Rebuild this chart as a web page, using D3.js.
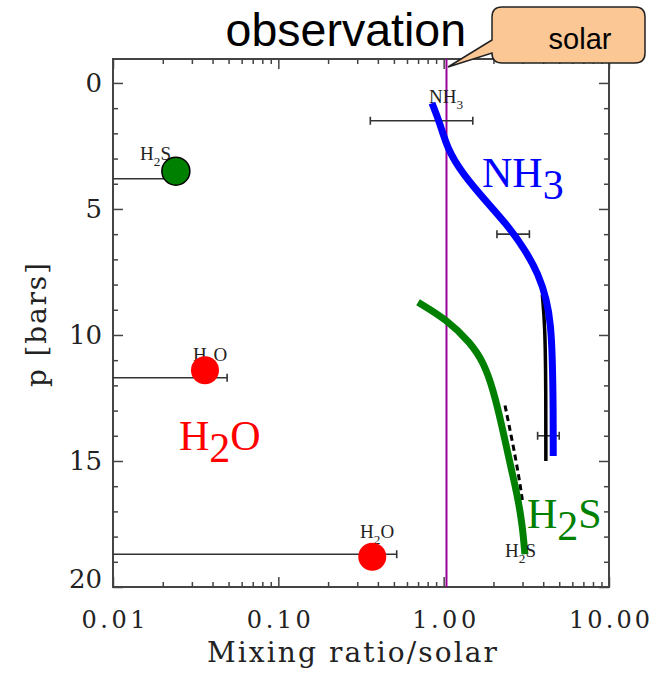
<!DOCTYPE html>
<html>
<head>
<meta charset="utf-8">
<script src="https://cdn.jsdelivr.net/npm/d3@7"></script>
<style>
  body { margin: 0; background: #fff; }
  svg { display: block; }
  .axis path, .axis line { stroke: #444; stroke-width: 1.5; }
  .axis text { font-family: "DejaVu Serif", serif; fill: #222; }
</style>
</head>
<body>
<svg id="chart" width="658" height="673"></svg>
<script>
// tick values / labels
var xTickValues = [0.01, 0.1, 1, 10]
var xTickLabels = ["0.01", "0.10", "1.00", "10.00"]
var yTickValues = [0, 5, 10, 15, 20]

// model curves (mixing ratio vs pressure)
var nh3Ratio    = [0.85, 0.95, 1.05, 1.3, 1.75, 2.4, 3.1, 3.75, 4.2, 4.45, 4.55, 4.6, 4.6]
var nh3Pressure = [0.8, 1.6, 2.6, 3.6, 4.6, 5.6, 6.6, 7.6, 8.6, 9.6, 11, 13, 14.8]
var nh3ObsRatio    = [3.95, 4.1, 4.15, 4.15]
var nh3ObsPressure = [8.4, 9.6, 12, 15.0]
var h2sRatio    = [0.70, 1.05, 1.45, 1.75, 2.0, 2.25, 2.5, 2.8, 3.0, 3.1]
var h2sPressure = [8.7, 9.4, 10.3, 11.1, 12.2, 13.6, 15.0, 16.4, 17.6, 18.7]
var h2sObsRatio    = [2.35, 2.6, 2.85, 3.0]
var h2sObsPressure = [12.8, 14.2, 15.6, 16.6]

// observed points
var pointRatio    = [0.024, 0.036, 0.37]
var pointPressure = [3.5, 11.4, 18.8]
var pointColor    = ["#008000", "#ff0000", "#ff0000"]

// error bars
var errPressure = [3.8, 11.7, 18.7, 1.5, 6.0, 14.0]
var errLow      = [0.01, 0.01, 0.01, 0.36, 2.1, 3.7]
var errHigh     = [0.024, 0.049, 0.52, 1.5, 3.3, 5.0]
var errCapLow   = [false, false, false, true, true, true]
var errCapHigh  = [false, true, true, true, true, true]

var solarRatio = 1.04

var svg = d3.select("#chart")

var x = d3.scaleLog().domain([0.01, 10]).range([113, 609])
var y = d3.scaleLinear().domain([-0.95, 20]).range([59, 587])

// minor ticks
var xMinor = []
for (var d = 0.01; d < 10; d *= 10) {
  for (var k = 2; k <= 9; k++) xMinor.push(d * k)
}
var yMinor = d3.range(0, 21).filter(function(v){ return v % 5 != 0 })

// frame
svg.append("rect")
  .attr("x", x.range()[0]).attr("y", y.range()[0])
  .attr("width", x.range()[1] - x.range()[0])
  .attr("height", y.range()[1] - y.range()[0])
  .attr("fill", "none").attr("stroke", "#444").attr("stroke-width", 2)

// axes
var xAx = svg.append("g").attr("class", "axis")
  .attr("transform", "translate(0," + y.range()[1] + ")")
  .call(d3.axisBottom(x).tickValues(xTickValues).tickSize(-10).tickPadding(24)
    .tickFormat(function(d, i){ return xTickLabels[i] }))
xAx.selectAll("text")
  .style("font-size", "24px")
  .attr("textLength", function(d, i){ return xTickLabels[i].length * 17 - 4 })
svg.append("g").attr("class", "axis")
  .attr("transform", "translate(0," + y.range()[1] + ")")
  .call(d3.axisBottom(x).tickValues(xMinor).tickSize(-5).tickFormat(""))
svg.append("g").attr("class", "axis")
  .attr("transform", "translate(0," + y.range()[0] + ")")
  .call(d3.axisTop(x).tickValues(xTickValues).tickSize(-10).tickFormat(""))
svg.append("g").attr("class", "axis")
  .attr("transform", "translate(0," + y.range()[0] + ")")
  .call(d3.axisTop(x).tickValues(xMinor).tickSize(-5).tickFormat(""))

var yAx = svg.append("g").attr("class", "axis")
  .attr("transform", "translate(" + x.range()[0] + ",0)")
  .call(d3.axisLeft(y).tickValues(yTickValues).tickSize(-10).tickPadding(11))
yAx.selectAll("text").style("font-size", "26px")
  .filter(function(d){ return d == 20 }).attr("dy", "0")
svg.append("g").attr("class", "axis")
  .attr("transform", "translate(" + x.range()[0] + ",0)")
  .call(d3.axisLeft(y).tickValues(yMinor).tickSize(-5).tickFormat(""))
svg.append("g").attr("class", "axis")
  .attr("transform", "translate(" + x.range()[1] + ",0)")
  .call(d3.axisRight(y).tickValues(yTickValues).tickSize(-10).tickFormat(""))
svg.append("g").attr("class", "axis")
  .attr("transform", "translate(" + x.range()[1] + ",0)")
  .call(d3.axisRight(y).tickValues(yMinor).tickSize(-5).tickFormat(""))
svg.selectAll(".axis .domain").remove()

// axis titles
svg.append("text")
  .attr("x", 352).attr("y", 662)
  .attr("text-anchor", "middle")
  .attr("textLength", 290)
  .style("font-family", "DejaVu Serif, serif").style("font-size", "28px").style("fill", "#222")
  .text("Mixing ratio/solar")
svg.append("text")
  .attr("transform", "translate(46,325) rotate(-90)")
  .attr("text-anchor", "middle")
  .attr("textLength", 124)
  .style("font-family", "DejaVu Serif, serif").style("font-size", "28px").style("fill", "#222")
  .text("p [bars]")

// solar line
svg.append("line")
  .attr("x1", x(solarRatio)).attr("x2", x(solarRatio))
  .attr("y1", y.range()[0]).attr("y2", y.range()[1])
  .attr("stroke", "#990099").attr("stroke-width", 2)

// error bars
var errG = svg.append("g")
errPressure.forEach(function(p, i) {
  errG.append("line")
    .attr("x1", x(errLow[i])).attr("x2", x(errHigh[i]))
    .attr("y1", y(p)).attr("y2", y(p))
    .attr("stroke", "#333").attr("stroke-width", 1.6)
  if (errCapLow[i]) errG.append("line")
    .attr("x1", x(errLow[i])).attr("x2", x(errLow[i]))
    .attr("y1", y(p) - 4).attr("y2", y(p) + 4)
    .attr("stroke", "#333").attr("stroke-width", 1.6)
  if (errCapHigh[i]) errG.append("line")
    .attr("x1", x(errHigh[i])).attr("x2", x(errHigh[i]))
    .attr("y1", y(p) - 4).attr("y2", y(p) + 4)
    .attr("stroke", "#333").attr("stroke-width", 1.6)
})

// curves
var line = d3.line().curve(d3.curveBasis)
function pts(rx, py) { return rx.map(function(v, i){ return [x(v), y(py[i])] }) }

svg.append("path").attr("d", line(pts(nh3ObsRatio, nh3ObsPressure)))
  .attr("fill", "none").attr("stroke", "#000").attr("stroke-width", 3.5)
svg.append("path").attr("d", line(pts(h2sObsRatio, h2sObsPressure)))
  .attr("fill", "none").attr("stroke", "#000").attr("stroke-width", 3)
  .attr("stroke-dasharray", "6,4")
svg.append("path").attr("d", line(pts(nh3Ratio, nh3Pressure)))
  .attr("fill", "none").attr("stroke", "#0000ff").attr("stroke-width", 7)
svg.append("path").attr("d", line(pts(h2sRatio, h2sPressure)))
  .attr("fill", "none").attr("stroke", "#008000").attr("stroke-width", 7)

// small labels from the original figure
function subLabel(tx, ty, main, sub, rest, size) {
  var t = svg.append("text").attr("x", tx).attr("y", ty)
    .style("font-family", "Liberation Serif, serif").style("font-size", size + "px").style("fill", "#222")
  t.append("tspan").text(main)
  t.append("tspan").attr("dy", size * 0.3).style("font-size", (size * 0.7) + "px").text(sub)
  t.append("tspan").attr("dy", -size * 0.3).text(rest)
  return t
}
subLabel(140, 160, "H", "2", "S", 19)
subLabel(193, 361, "H", "2", "O", 19)
subLabel(360, 538, "H", "2", "O", 19)
subLabel(429, 103, "NH", "3", "", 19)
subLabel(505, 557, "H", "2", "S", 19)

// points
svg.selectAll(".pt").data(pointRatio).enter()
  .append("circle")
  .attr("class", "pt")
  .attr("cx", function(d){ return x(d) })
  .attr("cy", function(d, i){ return y(pointPressure[i]) })
  .attr("r", 14)
  .attr("fill", function(d, i){ return pointColor[i] })
  .attr("stroke", function(d, i){ return i == 0 ? "#000" : "none" })
  .attr("stroke-width", 1.5)

// big coloured labels
function bigLabel(tx, ty, main, sub, rest, color) {
  var t = svg.append("text").attr("x", tx).attr("y", ty)
    .style("font-family", "Liberation Serif, serif").style("font-size", "42px").style("fill", color)
  t.append("tspan").text(main)
  t.append("tspan").attr("dy", 12).text(sub)
  t.append("tspan").attr("dy", -12).text(rest)
}
bigLabel(482, 187, "NH", "3", "", "#0000ff")
bigLabel(179, 450, "H", "2", "O", "#ff0000")
bigLabel(527, 528, "H", "2", "S", "#008000")

// title and callout
svg.append("text")
  .attr("x", 466).attr("y", 46)
  .attr("text-anchor", "end")
  .style("font-family", "Liberation Sans, Arial, sans-serif").style("font-size", "46.5px")
  .text("observation")

svg.append("path")
  .attr("d", "M502,7 H635 Q645,7 645,17 V53 Q645,63 635,63 H502 Q492,63 492,53 L448,67 L492,40 V17 Q492,7 502,7 Z")
  .attr("fill", "#fac795").attr("stroke", "#222").attr("stroke-width", 1.5)
svg.append("text")
  .attr("x", 580).attr("y", 49)
  .attr("text-anchor", "middle")
  .style("font-family", "Liberation Sans, Arial, sans-serif").style("font-size", "29px")
  .text("solar")
</script>
</body>
</html>
